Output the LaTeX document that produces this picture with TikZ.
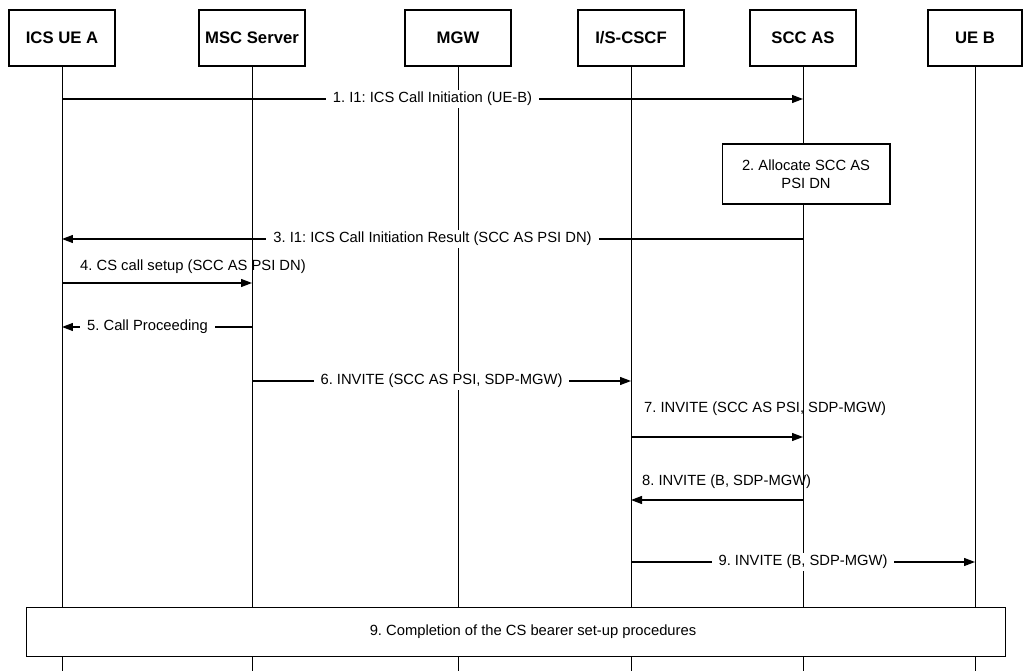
\documentclass[tikz,border=0pt]{standalone}
\usepackage{fontspec}
\setmainfont{Liberation Sans}
\frenchspacing
\usetikzlibrary{arrows.meta}

\begin{document}
\begin{tikzpicture}[x=0.02cm,y=-0.02cm,font=\fontsize{8.4}{10}\selectfont,
    entity/.style={draw,line width=0.6pt,minimum width=2.12cm,minimum height=1.12cm,
      font=\fontsize{9.5}{11}\selectfont\bfseries},
    life/.style={line width=0.55pt},
    msg/.style={line width=0.7pt,-{Triangle[length=2.2mm,width=1.6mm]}},
    note/.style={fill=white,inner xsep=4pt,inner ysep=1pt},
    stepbox/.style={draw,fill=white,line width=0.6pt,align=center}]
  \useasboundingbox (0,0) rectangle (1023,671);

  % entities
  \node[entity] (uea) at (62,38) {ICS UE A};
  \node[entity] (msc) at (252,38) {MSC Server};
  \node[entity] (mgw) at (458,38) {MGW};
  \node[entity] (cscf) at (631,38) {I/S-CSCF};
  \node[entity] (scc) at (803,38) {SCC AS};
  \node[entity,minimum width=1.88cm] (ueb) at (975,38) {UE B};

  % message rows
  \coordinate (m1) at (0,99);
  \coordinate (m3) at (0,239);
  \coordinate (m4) at (0,283);
  \coordinate (m5) at (0,327);
  \coordinate (m6) at (0,381);
  \coordinate (m7) at (0,437);
  \coordinate (m8) at (0,500);
  \coordinate (m9) at (0,562);
  \coordinate (bot) at (0,671);

  % lifelines
  \draw[life] (uea.south) -- (uea |- bot);
  \draw[life] (msc.south) -- (msc |- bot);
  \draw[life] (mgw.south) -- (mgw |- bot);
  \draw[life] (cscf.south) -- (cscf |- bot);
  \draw[life] (scc.south) -- (scc |- bot);
  \draw[life] (ueb.south) -- (ueb |- bot);

  % local step and common procedure
  \node[stepbox,minimum width=3.36cm,minimum height=1.2cm] (alloc) at (806,174)
    {2. Allocate SCC AS\\PSI DN};
  \node[stepbox,minimum width=19.58cm,minimum height=0.98cm] (bearer) at (516,632) {};
  \node (bearertxt) at (533,632) {9. Completion of the CS bearer set-up procedures};

  % messages
  \draw[msg] (uea |- m1) -- node[note] {1. I1: ICS Call Initiation (UE-B)} (scc |- m1);
  \draw[msg] (scc |- m3) -- node[note] {3. I1: ICS Call Initiation Result (SCC AS PSI DN)} (uea |- m3);
  \draw[msg] (uea |- m4) -- (msc |- m4);
  \node[anchor=west] (l4) at (74,267) {4. CS call setup (SCC AS PSI DN)};
  \draw[msg] (msc |- m5) -- node[note,pos=0.55] {5. Call Proceeding} (uea |- m5);
  \draw[msg] (msc |- m6) -- node[note] {6. INVITE (SCC AS PSI, SDP-MGW)} (cscf |- m6);
  \draw[msg] (cscf |- m7) -- (scc |- m7);
  \node[anchor=west] (l7) at (638,409) {7. INVITE (SCC AS PSI, SDP-MGW)};
  \draw[msg] (scc |- m8) -- (cscf |- m8);
  \node[anchor=west] (l8) at (636,482) {8. INVITE (B, SDP-MGW)};
  \draw[msg] (cscf |- m9) -- node[note] {9. INVITE (B, SDP-MGW)} (ueb |- m9);
\end{tikzpicture}
\end{document}
